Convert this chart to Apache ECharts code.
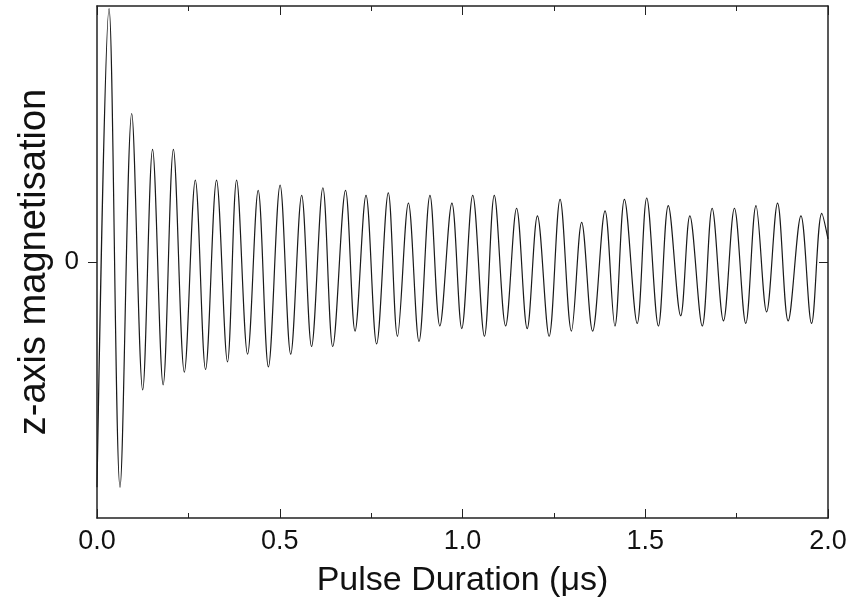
<!DOCTYPE html>
<html>
<head>
<meta charset="utf-8">
<script src="https://cdn.jsdelivr.net/npm/echarts@6/dist/echarts.min.js"></script>
<style>
  html, body { margin: 0; padding: 0; background: #fff; }
  #chart { width: 855px; height: 603px; }
</style>
</head>
<body>
<div id="chart"></div>
<script>
// pulse duration (µs) at the turning points of the trace
var timeUs = [
  0.000, 0.033, 0.063, 0.095, 0.125, 0.152, 0.181, 0.209, 0.239, 0.269,
  0.297, 0.327, 0.357, 0.382, 0.412, 0.441, 0.469, 0.501, 0.530, 0.560,
  0.587, 0.618, 0.645, 0.680, 0.706, 0.736, 0.765, 0.797, 0.822, 0.852,
  0.881, 0.911, 0.938, 0.971, 0.998, 1.028, 1.060, 1.087, 1.118, 1.148,
  1.177, 1.205, 1.237, 1.267, 1.298, 1.326, 1.356, 1.390, 1.417, 1.443,
  1.478, 1.504, 1.536, 1.563, 1.597, 1.622, 1.656, 1.683, 1.714, 1.744,
  1.775, 1.803, 1.832, 1.862, 1.891, 1.926, 1.955, 1.983, 2.000
];
// z-axis magnetisation (arbitrary units, 0 = centre line)
var magnetisation = [
  -0.88, 0.99, -0.88, 0.58, -0.50, 0.44, -0.48, 0.44, -0.43, 0.32,
  -0.42, 0.32, -0.39, 0.32, -0.36, 0.28, -0.41, 0.30, -0.36, 0.26,
  -0.33, 0.29, -0.33, 0.28, -0.27, 0.26, -0.32, 0.27, -0.29, 0.23,
  -0.31, 0.26, -0.25, 0.23, -0.26, 0.26, -0.29, 0.26, -0.25, 0.21,
  -0.26, 0.18, -0.29, 0.245, -0.27, 0.155, -0.27, 0.20, -0.25, 0.245,
  -0.24, 0.25, -0.25, 0.22, -0.21, 0.18, -0.25, 0.21, -0.23, 0.21,
  -0.24, 0.22, -0.195, 0.23, -0.23, 0.18, -0.24, 0.19, 0.09
];

var points = timeUs.map(function (t, i) { return [t, magnetisation[i]]; });

var chart = echarts.init(document.getElementById('chart'));
var axisColor = '#222';
var font = 'Liberation Sans, Arial, sans-serif';

var option = {
  animation: false,
  grid: { left: 97, right: 27, top: 6, bottom: 83 },
  xAxis: [
    {
      type: 'value', position: 'bottom',
      min: 0, max: 2, interval: 0.5,
      name: 'Pulse Duration (\u03bcs)',
      nameLocation: 'middle', nameGap: 46,
      nameTextStyle: { fontFamily: font, fontSize: 34, color: '#111' },
      axisLine: { show: true, onZero: false, lineStyle: { color: axisColor, width: 1.5 } },
      axisTick: { show: true, inside: true, length: 9, lineStyle: { color: axisColor } },
      minorTick: { show: true, splitNumber: 2, length: 5, lineStyle: { color: axisColor } },
      axisLabel: {
        margin: 10, fontFamily: font, fontSize: 27, color: '#111',
        formatter: function (v) { return v.toFixed(1); }
      },
      splitLine: { show: false }
    },
    {
      type: 'value', position: 'top',
      min: 0, max: 2, interval: 0.5,
      axisLine: { show: true, onZero: false, lineStyle: { color: axisColor, width: 1.5 } },
      axisTick: { show: true, inside: true, length: 9, lineStyle: { color: axisColor } },
      minorTick: { show: true, splitNumber: 2, length: 5, lineStyle: { color: axisColor } },
      axisLabel: { show: false },
      splitLine: { show: false }
    }
  ],
  yAxis: [
    {
      type: 'value', position: 'left',
      min: -1, max: 1, interval: 1,
      name: 'z-axis magnetisation',
      nameLocation: 'middle', nameGap: 40,
      nameTextStyle: { fontFamily: font, fontSize: 38, color: '#111' },
      axisLine: { show: true, onZero: false, lineStyle: { color: axisColor, width: 1.5 } },
      axisTick: { show: true, inside: false, length: 9, customValues: [0], lineStyle: { color: axisColor } },
      axisLabel: { margin: 18, fontFamily: font, fontSize: 26, color: '#111', customValues: [0],
        formatter: function (v) { return v === 0 ? '0' : ''; } },
      splitLine: { show: false }
    },
    {
      type: 'value', position: 'right',
      min: -1, max: 1, interval: 1,
      axisLine: { show: true, onZero: false, lineStyle: { color: axisColor, width: 1.5 } },
      axisTick: { show: true, inside: true, length: 9, customValues: [0], lineStyle: { color: axisColor } },
      axisLabel: { show: false },
      splitLine: { show: false }
    }
  ],
  series: [
    {
      type: 'line',
      data: points,
      smooth: 0.35,
      showSymbol: false,
      lineStyle: { color: '#1a1a1a', width: 1.2 }
    }
  ]
};
chart.setOption(option);
</script>
</body>
</html>
